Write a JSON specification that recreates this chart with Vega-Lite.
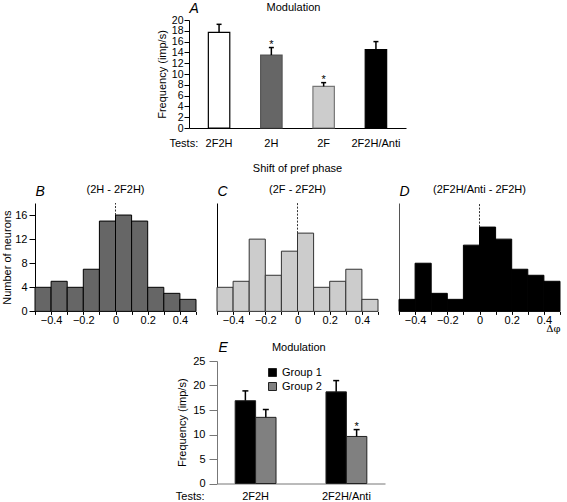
{
  "$schema": "https://vega.github.io/schema/vega-lite/v6.json",
  "background": "white",
  "padding": {"left": 1, "top": 1, "right": 0, "bottom": 0},
  "config": {
    "view": {"stroke": null},
    "font": "Liberation Sans",
    "axis": {"labelFont": "Liberation Sans", "titleFont": "Liberation Sans", "labelFontSize": 11, "titleFontSize": 11, "titleFontWeight": "normal", "labelColor": "black", "titleColor": "black", "domainColor": "black", "tickColor": "black", "grid": false, "labelOverlap": false},
    "legend": {"labelFont": "Liberation Sans", "labelColor": "black"}
  },
  "datasets": {
    "modA": [
      {"test": "2F2H", "mean": 17.7, "err": 19.2, "sig": ""},
      {"test": "2H", "mean": 13.5, "err": 14.9, "sig": "*"},
      {"test": "2F", "mean": 7.7, "err": 8.4, "sig": "*"},
      {"test": "2F2H/Anti", "mean": 14.5, "err": 16.0, "sig": ""}
    ],
    "modE": [
      {"test": "2F2H", "group": "Group 1", "mean": 16.9, "err": 18.9, "sig": ""},
      {"test": "2F2H", "group": "Group 2", "mean": 13.5, "err": 15.1, "sig": ""},
      {"test": "2F2H/Anti", "group": "Group 1", "mean": 18.7, "err": 21.0, "sig": ""},
      {"test": "2F2H/Anti", "group": "Group 2", "mean": 9.6, "err": 11.0, "sig": "*"}
    ],
    "histB": [
      {"bin_start": -0.5, "bin_end": -0.4, "count": 4},
      {"bin_start": -0.4, "bin_end": -0.3, "count": 5},
      {"bin_start": -0.3, "bin_end": -0.2, "count": 4},
      {"bin_start": -0.2, "bin_end": -0.1, "count": 7},
      {"bin_start": -0.1, "bin_end": 0, "count": 15},
      {"bin_start": 0, "bin_end": 0.1, "count": 16},
      {"bin_start": 0.1, "bin_end": 0.2, "count": 15},
      {"bin_start": 0.2, "bin_end": 0.3, "count": 4},
      {"bin_start": 0.3, "bin_end": 0.4, "count": 3},
      {"bin_start": 0.4, "bin_end": 0.5, "count": 2}
    ],
    "histC": [
      {"bin_start": -0.5, "bin_end": -0.4, "count": 4},
      {"bin_start": -0.4, "bin_end": -0.3, "count": 5},
      {"bin_start": -0.3, "bin_end": -0.2, "count": 12},
      {"bin_start": -0.2, "bin_end": -0.1, "count": 6},
      {"bin_start": -0.1, "bin_end": 0, "count": 10},
      {"bin_start": 0, "bin_end": 0.1, "count": 13},
      {"bin_start": 0.1, "bin_end": 0.2, "count": 4},
      {"bin_start": 0.2, "bin_end": 0.3, "count": 5},
      {"bin_start": 0.3, "bin_end": 0.4, "count": 7},
      {"bin_start": 0.4, "bin_end": 0.5, "count": 2}
    ],
    "histD": [
      {"bin_start": -0.5, "bin_end": -0.4, "count": 2},
      {"bin_start": -0.4, "bin_end": -0.3, "count": 8},
      {"bin_start": -0.3, "bin_end": -0.2, "count": 3},
      {"bin_start": -0.2, "bin_end": -0.1, "count": 2},
      {"bin_start": -0.1, "bin_end": 0, "count": 11},
      {"bin_start": 0, "bin_end": 0.1, "count": 14},
      {"bin_start": 0.1, "bin_end": 0.2, "count": 12},
      {"bin_start": 0.2, "bin_end": 0.3, "count": 7},
      {"bin_start": 0.3, "bin_end": 0.4, "count": 6},
      {"bin_start": 0.4, "bin_end": 0.5, "count": 5}
    ],
    "zeroB": [{"pos": 0, "bar": 16, "top": 18, "label": "(2H - 2F2H)"}],
    "zeroC": [{"pos": 0, "bar": 13, "top": 18, "label": "Shift of pref phase\n(2F - 2F2H)"}],
    "zeroD": [{"pos": 0, "bar": 14, "top": 18, "label": "(2F2H/Anti - 2F2H)"}]
  },
  "resolve": {"scale": {"fill": "independent", "stroke": "independent"}, "legend": {"fill": "independent", "stroke": "independent"}},
  "spacing": 6,
  "vconcat": [
    {
      "spacing": 13,
      "resolve": {"scale": {"fill": "independent", "stroke": "independent"}},
      "vconcat": [
        {
          "spacing": 0,
          "hconcat": [
            {"width": 121, "height": 1, "data": {"values": []}, "mark": "point"},
            {
              "width": 217, "height": 108,
              "data": {"name": "modA"},
              "resolve": {"axis": {"x": "independent", "y": "independent"}},
              "layer": [
                {
                  "mark": {"type": "bar", "strokeWidth": 1.2},
                  "encoding": {
                    "x": {"field": "test", "type": "nominal", "sort": null,
                      "scale": {"paddingInner": 0.59, "paddingOuter": 0.37},
                      "axis": {"orient": "bottom", "title": "Tests:", "titleAnchor": "start", "titleAlign": "left", "titleX": -20, "titleY": 18.3, "titleBaseline": "alphabetic", "labelAngle": 0, "ticks": false, "tickSize": 0, "labelBaseline": "alphabetic", "labelPadding": 18.3, "labelOverlap": false}},
                    "y": {"field": "mean", "type": "quantitative",
                      "scale": {"domain": [0, 20], "nice": false},
                      "axis": {"orient": "left", "title": "Frequency (imp/s)", "values": [0, 2, 4, 6, 8, 10, 12, 14, 16, 18, 20], "labelOverlap": false, "labelBound": false, "labelFontSize": 10.5, "tickSize": 5, "labelPadding": 1, "titlePadding": 4}},
                    "fill": {"field": "test", "type": "nominal", "sort": null, "scale": {"range": ["#ffffff", "#666666", "#cccccc", "#000000"]}, "legend": null},
                    "stroke": {"field": "test", "type": "nominal", "sort": null, "scale": {"range": ["#000000", "#555555", "#777777", "#000000"]}, "legend": null}
                  }
                },
                {
                  "mark": {"type": "rule", "strokeWidth": 1.5, "color": "black"},
                  "encoding": {
                    "x": {"field": "test", "type": "nominal", "sort": null,
                      "axis": {"orient": "top", "title": "Modulation", "labels": false, "ticks": false, "domain": false, "titleX": 104, "titleAlign": "center", "titleY": -9.5, "titleBaseline": "alphabetic"}},
                    "y": {"field": "mean", "type": "quantitative", "axis": null},
                    "y2": {"field": "err"}
                  }
                },
                {
                  "mark": {"type": "tick", "size": 5, "thickness": 1.5, "color": "black", "opacity": 1},
                  "encoding": {
                    "x": {"field": "test", "type": "nominal", "sort": null,
                      "axis": {"orient": "top", "title": "A", "titleX": 0, "titleAlign": "left", "labels": false, "ticks": false, "domain": false, "titleY": -7.3, "titleBaseline": "alphabetic", "titleFontStyle": "italic", "titleFontSize": 14}},
                    "y": {"field": "err", "type": "quantitative", "axis": null}
                  }
                },
                {
                  "mark": {"type": "text", "fontSize": 11, "baseline": "alphabetic", "color": "black", "font": "Liberation Sans"},
                  "encoding": {
                    "x": {"field": "test", "type": "nominal", "sort": null, "axis": null},
                    "y": {"field": "err", "type": "quantitative", "axis": null},
                    "text": {"field": "sig"}
                  }
                }
              ]
            }
          ]
        },
        {
          "spacing": 19,
          "hconcat": [
            {
              "width": 161, "height": 108.4,
              "resolve": {"axis": {"x": "independent", "y": "independent"}},
              "layer": [
                {
                  "data": {"name": "histB"},
                  "mark": {"type": "bar", "fill": "#666666", "stroke": "black", "strokeWidth": 1},
                  "encoding": {
                    "x": {"field": "bin_start", "type": "quantitative", "scale": {"domain": [-0.5, 0.5], "nice": false, "zero": false},
                      "axis": {"title": null, "values": [-0.5, -0.4, -0.3, -0.2, -0.1, 0, 0.1, 0.2, 0.3, 0.4, 0.5], "format": ".1~f", "labelExpr": "abs(round(datum.value*10)) % 2 == 0 ? datum.label : ''", "domain": false, "tickSize": 3, "labelPadding": 0, "labelFlush": false, "labelOverlap": false, "labelBound": false}},
                    "x2": {"field": "bin_end"},
                    "y": {"field": "count", "type": "quantitative", "scale": {"domain": [0, 18], "nice": false},
                      "axis": {"orient": "left", "title": "Number of neurons", "values": [0, 4, 8, 12, 16], "labelOverlap": false, "labelBound": false, "tickSize": 6, "labelPadding": 2, "titlePadding": 2}},
                    "y2": {"datum": 0}
                  }
                },
                {
                  "data": {"name": "zeroB"},
                  "mark": {"type": "rule", "strokeDash": [2, 1.5], "strokeWidth": 1, "color": "#333333"},
                  "encoding": {
                    "x": {"field": "pos", "type": "quantitative",
                      "axis": {"orient": "top", "title": "B", "titleAnchor": "start", "titleAlign": "left", "labels": false, "ticks": false, "domain": false, "titleY": -7.4, "titleBaseline": "alphabetic", "titleFontStyle": "italic", "titleFontSize": 14}},
                    "y": {"field": "bar", "type": "quantitative", "axis": null},
                    "y2": {"field": "top"}
                  }
                },
                {
                  "data": {"name": "zeroB"},
                  "mark": {"type": "text", "fontSize": 11, "baseline": "alphabetic", "dy": -9.7, "color": "black", "font": "Liberation Sans"},
                  "encoding": {
                    "x": {"field": "pos", "type": "quantitative", "axis": null},
                    "y": {"field": "top", "type": "quantitative", "axis": null},
                    "text": {"field": "label"}
                  }
                }
              ]
            },
            {
              "width": 161, "height": 108.4,
              "resolve": {"axis": {"x": "independent", "y": "independent"}},
              "layer": [
                {
                  "data": {"name": "histC"},
                  "mark": {"type": "bar", "fill": "#cccccc", "stroke": "#333333", "strokeWidth": 1},
                  "encoding": {
                    "x": {"field": "bin_start", "type": "quantitative", "scale": {"domain": [-0.5, 0.5], "nice": false, "zero": false},
                      "axis": {"title": null, "values": [-0.5, -0.4, -0.3, -0.2, -0.1, 0, 0.1, 0.2, 0.3, 0.4, 0.5], "format": ".1~f", "labelExpr": "abs(round(datum.value*10)) % 2 == 0 ? datum.label : ''", "domain": false, "tickSize": 3, "labelPadding": 0, "labelFlush": false, "labelOverlap": false, "labelBound": false}},
                    "x2": {"field": "bin_end"},
                    "y": {"field": "count", "type": "quantitative", "scale": {"domain": [0, 18], "nice": false},
                      "axis": {"orient": "left", "title": null, "labels": false, "ticks": false, "domain": true}},
                    "y2": {"datum": 0}
                  }
                },
                {
                  "data": {"name": "zeroC"},
                  "mark": {"type": "rule", "strokeDash": [2, 1.5], "strokeWidth": 1, "color": "#333333"},
                  "encoding": {
                    "x": {"field": "pos", "type": "quantitative",
                      "axis": {"orient": "top", "title": "C", "titleAnchor": "start", "titleAlign": "left", "labels": false, "ticks": false, "domain": false, "titleY": -7.4, "titleBaseline": "alphabetic", "titleFontStyle": "italic", "titleFontSize": 14}},
                    "y": {"field": "bar", "type": "quantitative", "axis": null},
                    "y2": {"field": "top"}
                  }
                },
                {
                  "data": {"name": "zeroC"},
                  "mark": {"type": "text", "fontSize": 11, "baseline": "alphabetic", "dy": -31.2, "lineBreak": "\n", "lineHeight": 21.5, "color": "black", "font": "Liberation Sans"},
                  "encoding": {
                    "x": {"field": "pos", "type": "quantitative", "axis": null},
                    "y": {"field": "top", "type": "quantitative", "axis": null},
                    "text": {"field": "label"}
                  }
                }
              ]
            },
            {
              "width": 161, "height": 108.4,
              "resolve": {"axis": {"x": "independent", "y": "independent"}},
              "layer": [
                {
                  "data": {"name": "histD"},
                  "mark": {"type": "bar", "fill": "#000000", "stroke": "#000000", "strokeWidth": 1},
                  "encoding": {
                    "x": {"field": "bin_start", "type": "quantitative", "scale": {"domain": [-0.5, 0.5], "nice": false, "zero": false},
                      "axis": {"title": "Δφ", "titleFont": "DejaVu Serif", "titleFontSize": 10, "titleAnchor": "end", "titleAlign": "right", "titleY": 20.5, "titleBaseline": "alphabetic", "values": [-0.5, -0.4, -0.3, -0.2, -0.1, 0, 0.1, 0.2, 0.3, 0.4, 0.5], "format": ".1~f", "labelExpr": "abs(round(datum.value*10)) % 2 == 0 ? datum.label : ''", "domain": false, "tickSize": 3, "labelPadding": 0, "labelFlush": false, "labelOverlap": false, "labelBound": false}},
                    "x2": {"field": "bin_end"},
                    "y": {"field": "count", "type": "quantitative", "scale": {"domain": [0, 18], "nice": false},
                      "axis": {"orient": "left", "title": null, "labels": false, "ticks": false, "domain": true, "domainColor": "#555555"}},
                    "y2": {"datum": 0}
                  }
                },
                {
                  "data": {"name": "zeroD"},
                  "mark": {"type": "rule", "strokeDash": [2, 1.5], "strokeWidth": 1, "color": "#333333"},
                  "encoding": {
                    "x": {"field": "pos", "type": "quantitative",
                      "axis": {"orient": "top", "title": "D", "titleAnchor": "start", "titleAlign": "left", "labels": false, "ticks": false, "domain": false, "titleY": -7.4, "titleBaseline": "alphabetic", "titleFontStyle": "italic", "titleFontSize": 14}},
                    "y": {"field": "bar", "type": "quantitative", "axis": null},
                    "y2": {"field": "top"}
                  }
                },
                {
                  "data": {"name": "zeroD"},
                  "mark": {"type": "text", "fontSize": 11, "baseline": "alphabetic", "dy": -9.7, "color": "black", "font": "Liberation Sans"},
                  "encoding": {
                    "x": {"field": "pos", "type": "quantitative", "axis": null},
                    "y": {"field": "top", "type": "quantitative", "axis": null},
                    "text": {"field": "label"}
                  }
                }
              ]
            }
          ]
        }
      ]
    },
    {
      "spacing": 0,
      "resolve": {"scale": {"fill": "independent", "stroke": "independent"}},
      "hconcat": [
        {"width": 140, "height": 1, "data": {"values": []}, "mark": "point"},
        {
          "width": 168, "height": 122.5,
          "data": {"name": "modE"},
          "resolve": {"axis": {"x": "independent", "y": "independent"}},
          "layer": [
            {
              "mark": {"type": "bar", "stroke": "#222222", "strokeWidth": 1},
              "encoding": {
                "x": {"field": "test", "type": "nominal", "sort": null,
                  "scale": {"paddingInner": 0.55, "paddingOuter": 0.2},
                  "axis": {"orient": "bottom", "title": "Tests:", "titleAnchor": "start", "titleAlign": "left", "titleX": -41.7, "titleY": 16, "titleBaseline": "alphabetic", "labelAngle": 0, "ticks": false, "tickSize": 0, "labelBaseline": "alphabetic", "labelPadding": 16, "labelOverlap": false, "domainColor": "#777777"}},
                "xOffset": {"field": "group", "type": "nominal", "scale": {"paddingInner": 0, "paddingOuter": 0}},
                "y": {"field": "mean", "type": "quantitative",
                  "scale": {"domain": [0, 25], "nice": false},
                  "axis": {"orient": "left", "title": "Frequency (imp/s)", "values": [0, 5, 10, 15, 20, 25], "labelOverlap": false, "labelBound": false, "tickSize": 8, "labelPadding": 4, "titlePadding": 5, "domainColor": "#777777", "tickColor": "#777777"}},
                "fill": {"field": "group", "type": "nominal", "scale": {"range": ["#000000", "#808080"]},
                  "legend": {"title": null, "orient": "none", "legendX": 50, "legendY": 6, "symbolType": "square", "symbolSize": 64, "symbolStrokeColor": "#222222", "symbolStrokeWidth": 1, "symbolOpacity": 1, "labelFontSize": 11, "labelOffset": 4, "rowPadding": 1, "padding": 0}}
              }
            },
            {
              "mark": {"type": "rule", "strokeWidth": 1.5, "color": "black"},
              "encoding": {
                "x": {"field": "test", "type": "nominal", "sort": null,
                  "axis": {"orient": "top", "title": "Modulation", "labels": false, "ticks": false, "domain": false, "titleX": 81.3, "titleAlign": "center", "titleY": -11, "titleBaseline": "alphabetic"}},
                "xOffset": {"field": "group", "type": "nominal"},
                "y": {"field": "mean", "type": "quantitative", "axis": null},
                "y2": {"field": "err"}
              }
            },
            {
              "mark": {"type": "tick", "size": 6, "thickness": 1.5, "color": "black", "opacity": 1},
              "encoding": {
                "x": {"field": "test", "type": "nominal", "sort": null,
                  "axis": {"orient": "top", "title": "E", "titleX": 1, "titleAlign": "left", "labels": false, "ticks": false, "domain": false, "titleY": -9.5, "titleBaseline": "alphabetic", "titleFontStyle": "italic", "titleFontSize": 14}},
                "xOffset": {"field": "group", "type": "nominal"},
                "y": {"field": "err", "type": "quantitative", "axis": null}
              }
            },
            {
              "mark": {"type": "text", "fontSize": 11, "baseline": "alphabetic", "color": "black", "font": "Liberation Sans"},
              "encoding": {
                "x": {"field": "test", "type": "nominal", "sort": null, "axis": null},
                "xOffset": {"field": "group", "type": "nominal"},
                "y": {"field": "err", "type": "quantitative", "axis": null},
                "text": {"field": "sig"}
              }
            }
          ]
        }
      ]
    }
  ]
}
